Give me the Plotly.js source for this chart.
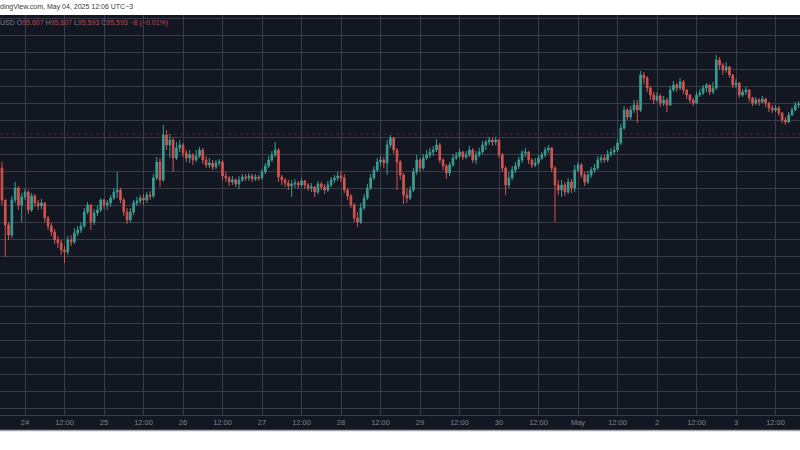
<!DOCTYPE html>
<html>
<head>
<meta charset="utf-8">
<script src="https://cdn.plot.ly/plotly-3.0.1.min.js"></script>
<style>html,body{margin:0;padding:0;background:#fff;}#chart{width:800px;height:450px;}</style>
</head>
<body>
<div id="chart"></div>
<script>
// Hourly candles (UTC-3), first candle 2025-04-23 17:00
const startTime = "2025-04-23T17:00:00";
const firstOpen = 94595;
const closes = [93652,92916,92621,93652,94006,93505,93741,93888,93358,93770,
93564,93476,93564,93122,92886,92709,92474,92385,92179,92120,
92474,92415,92680,92768,92886,93299,93505,93004,93269,93358,
93652,93505,93564,93711,93888,93947,93652,93299,93063,93299,
93564,93623,93711,93652,93800,93770,94301,94772,94242,95568,
95273,95420,94890,95185,95273,95037,94890,94978,94831,94949,
95126,94831,94684,94743,94625,94743,94772,94360,94301,94183,
94242,94124,94242,94330,94301,94360,94271,94330,94301,94477,
94654,94831,94978,95126,94330,94242,94153,94065,94124,94153,
94094,94212,94094,94006,94035,93888,94124,94035,93947,94094,
94242,94301,94360,94301,93947,93770,93505,93122,93004,93417,
93711,94006,94301,94536,94772,94831,94743,95273,95479,95126,
94772,94389,93800,93711,93947,94477,94831,94595,94890,94978,
95067,95126,95273,94831,94654,94448,94684,94890,94949,95067,
94919,94978,95126,94831,94978,95067,95273,95361,95420,95361,
95420,94978,94595,94094,94301,94536,94654,94831,95037,95067,
94831,94684,94743,94890,94978,95126,95185,94595,94094,93947,
94094,93888,94183,94006,94536,94684,94389,94183,94389,94536,
94595,94831,94890,94831,95008,95067,95126,95332,95774,96304,
96098,96304,96452,96304,97336,97247,96953,96746,96599,96717,
96511,96599,96452,96894,97041,96953,97130,96894,96746,96599,
96511,96746,96805,96953,97041,96835,96953,97778,97631,97483,
97572,97336,97041,97100,96746,96835,96894,96658,96511,96599,
96540,96629,96511,96363,96304,96363,96216,96010,95951,96157,
96304,96452,96481];
const highs = [94772,93652,93004,93770,94183,94065,93859,93976,93947,93859,
93829,93652,93682,93593,93181,92975,92798,92592,92474,92297,
92592,92621,92827,92886,93004,93417,93593,93534,93387,93505,
93711,93682,93652,93800,94006,94477,94006,93711,93417,93417,
93652,93741,93800,93829,93888,93918,94418,94919,94890,95862,
95715,95597,95479,95361,95420,95332,95126,95126,95037,95126,
95214,95185,94949,94890,94831,94831,94860,94831,94477,94360,
94360,94301,94360,94418,94418,94448,94418,94418,94389,94566,
94743,94949,95096,95361,95185,94389,94301,94242,94242,94271,
94212,94301,94242,94153,94153,94065,94212,94183,94124,94212,
94330,94389,94477,94507,94418,94006,93829,93564,93299,93564,
93829,94124,94418,94654,94890,94949,94919,95420,95568,95509,
95185,94831,94448,94006,94065,94595,94978,94890,95008,95126,
95185,95244,95450,95332,94890,94713,94772,95008,95067,95155,
95096,95096,95244,95185,95096,95185,95391,95420,95509,95479,
95509,95450,95037,94654,94477,94654,94772,94919,95126,95185,
95096,94890,94890,94978,95067,95214,95273,95214,94654,94242,
94242,94183,94301,94271,94684,94772,94743,94477,94507,94625,
94713,94949,94978,94978,95126,95185,95244,95450,95892,96422,
96363,96422,96599,96599,97454,97424,97306,97012,96835,96835,
96776,96717,96658,97012,97159,97100,97247,97188,96923,96776,
96658,96835,96923,97041,97100,97071,97130,97925,97866,97689,
97719,97601,97365,97218,97130,96923,96982,96923,96687,96687,
96658,96717,96658,96540,96452,96452,96422,96245,96098,96245,
96393,96540,96570];
const lows = [93505,91973,92474,92533,93564,93358,93004,93652,93240,93299,
93446,93358,93387,93004,92768,92592,92356,92238,92032,91796,
92032,92297,92356,92592,92680,92827,93240,92768,92916,93181,
93299,93387,93358,93446,93652,93711,93564,93181,92945,93004,
93210,93476,93534,93505,93564,93652,93711,94242,94035,94183,
95126,94890,94477,94831,95067,94919,94772,94743,94684,94772,
94890,94713,94595,94595,94536,94566,94654,94242,94183,94065,
94094,94035,93976,94183,94212,94212,94183,94212,94212,94242,
94418,94595,94772,94919,94183,94094,94035,93947,93741,94006,
93976,94035,93976,93918,93888,93741,93829,93947,93829,93888,
94035,94153,94212,94183,93859,93652,93417,93004,92857,92945,
93358,93652,93947,94242,94477,94654,94595,94389,95185,95008,
93947,94242,93534,93564,93652,93888,94389,94477,94536,94831,
94890,94949,95067,94743,94536,94271,94360,94625,94831,94890,
94831,94860,94919,94743,94713,94919,95008,95126,95273,95244,
95273,94890,94477,93800,94006,94242,94448,94566,94743,94919,
94713,94595,94625,94684,94831,94919,95037,94477,93004,93800,
93741,93770,93829,93859,93888,94477,94301,94065,94124,94301,
94448,94536,94743,94743,94772,94919,94978,95067,95273,95715,
96010,96010,96216,95921,96245,97071,96835,96599,96481,96540,
96393,96422,96245,96422,96835,96835,96894,96776,96629,96511,
96422,96481,96687,96746,96835,96746,96776,96894,97483,97336,
97395,97247,96953,96953,96658,96687,96746,96540,96422,96452,
96422,96511,96393,96245,96216,96245,96128,95921,95862,95921,
96128,96275,96363];

const tickTimes = ["2025-04-24 00:00","2025-04-24 12:00","2025-04-25 00:00","2025-04-25 12:00",
"2025-04-26 00:00","2025-04-26 12:00","2025-04-27 00:00","2025-04-27 12:00",
"2025-04-28 00:00","2025-04-28 12:00","2025-04-29 00:00","2025-04-29 12:00",
"2025-04-30 00:00","2025-04-30 12:00","2025-05-01 00:00","2025-05-01 12:00",
"2025-05-02 00:00","2025-05-02 12:00","2025-05-03 00:00","2025-05-03 12:00"];
const tickLabels = ["24","12:00","25","12:00","26","12:00","27","12:00","28","12:00",
"29","12:00","30","12:00","May","12:00","2","12:00","3","12:00"];

const lastPrice = 95593;
const headerText = "dingView.com, May 04, 2025 12:06 UTC−3";
const legendLabels = ["USD", "O", "H", "L", "C"];
const legendValues = ["95,607", "95,607", "95,593", "95,593", "−8 (−0.01%)"];

function pad(n){return (n<10?"0":"")+n;}
const t0 = new Date(startTime + "Z").getTime();
const times = closes.map((_, i) => {
  const d = new Date(t0 + i * 3600000);
  return d.getUTCFullYear()+"-"+pad(d.getUTCMonth()+1)+"-"+pad(d.getUTCDate())+" "+pad(d.getUTCHours())+":00";
});
const opens = closes.map((c, i) => i === 0 ? firstOpen : closes[i-1]);

const UP = "#3a9d93", DOWN = "#d2544f";
const BG = "#131722", GRID = "#393d49";

const trace = {
  type: "candlestick",
  x: times, open: opens, high: highs, low: lows, close: closes,
  increasing: {line: {color: UP, width: 1}, fillcolor: UP},
  decreasing: {line: {color: DOWN, width: 1}, fillcolor: DOWN},
  whiskerwidth: 0,
  hoverinfo: "skip"
};

const gray = "#7d808a", red = "#c9444e";
const legendHtml =
  '<span style="color:'+gray+'">'+legendLabels[0]+' '+legendLabels[1]+'</span><span style="color:'+red+'">'+legendValues[0]+'</span>' +
  '<span style="color:'+gray+'"> '+legendLabels[2]+'</span><span style="color:'+red+'">'+legendValues[1]+'</span>' +
  '<span style="color:'+gray+'"> '+legendLabels[3]+'</span><span style="color:'+red+'">'+legendValues[2]+'</span>' +
  '<span style="color:'+gray+'"> '+legendLabels[4]+'</span><span style="color:'+red+'">'+legendValues[3]+' '+legendValues[4]+'</span>';

const layout = {
  width: 800, height: 450,
  margin: {l: 0, r: 0, t: 15, b: 35, pad: 0},
  paper_bgcolor: "#ffffff",
  plot_bgcolor: BG,
  showlegend: false,
  hovermode: false,
  font: {family: "Liberation Sans, Arial, sans-serif", size: 8, color: "#8a8d96"},
  xaxis: {
    type: "date",
    range: ["2025-04-23 16:24", "2025-05-03 19:26"],
    rangeslider: {visible: false},
    tickmode: "array", tickvals: tickTimes, ticktext: tickLabels,
    showgrid: true, gridcolor: GRID, gridwidth: 1,
    ticks: "", showline: true, linecolor: GRID, linewidth: 1,
    tickfont: {size: 7.5, color: "#80838c"},
    zeroline: false, fixedrange: true
  },
  yaxis: {
    range: [87316, 99104],
    dtick: 500, tick0: 95500,
    showgrid: true, gridcolor: GRID, gridwidth: 1,
    showticklabels: false, ticks: "", zeroline: false, showline: false, fixedrange: true
  },
  shapes: [
    {type: "rect", xref: "paper", yref: "paper", x0: 0, x1: 1, y0: -0.0375, y1: 0,
     fillcolor: BG, line: {width: 0}, layer: "below"},
    {type: "line", xref: "paper", yref: "paper", x0: 0, x1: 1, y0: -0.039, y1: -0.039,
     line: {color: "#a3a6ad", width: 1.5}},
    {type: "line", xref: "paper", yref: "y", x0: 0, x1: 1, y0: lastPrice, y1: lastPrice,
     line: {color: "rgba(200,70,80,0.32)", width: 1, dash: "dot"}, layer: "below"}
  ],
  annotations: [
    {xref: "paper", yref: "paper", x: -0.003, y: 1.02, xanchor: "left", yanchor: "middle",
     text: headerText, showarrow: false, font: {size: 7, color: "#3a3a3a"}},
    {xref: "paper", yref: "paper", x: -0.003, y: 0.98, xanchor: "left", yanchor: "middle",
     text: legendHtml, showarrow: false, font: {size: 7}}
  ]
};

Plotly.newPlot("chart", [trace], layout, {displayModeBar: false, staticPlot: true});
</script>
</body>
</html>
